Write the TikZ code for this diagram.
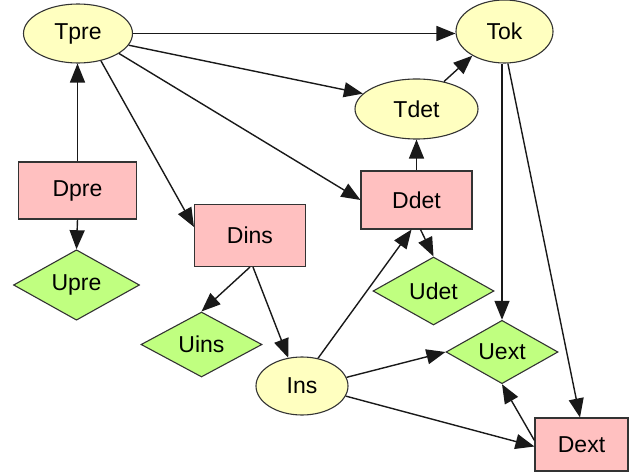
\documentclass[tikz,border=0pt]{standalone}
\usepackage{fontspec}
\setmainfont{Liberation Sans}
\usetikzlibrary{shapes.geometric,arrows.meta}
\definecolor{tfill}{HTML}{FFFFC0}
\definecolor{dfill}{HTML}{FFC0C0}
\definecolor{ufill}{HTML}{C0FF80}
\begin{document}
\begin{tikzpicture}[x=1pt,y=-1pt,
  every node/.style={font=\fontsize{23}{26}\selectfont, draw=black!80, line width=1.1pt, inner sep=0pt},
  tnode/.style={ellipse, fill=tfill},
  dnode/.style={rectangle, fill=dfill},
  unode/.style={diamond, fill=ufill},
  conn/.style={draw=black!90, line width=1.4pt, -{Triangle[length=19pt,width=15pt]}}]
\useasboundingbox (0,0) rectangle (636,473);
% ellipses
\node[tnode, minimum width=109pt, minimum height=59pt] (Tpre) at (78,33.5) {Tpre};
\node[tnode, minimum width=97pt, minimum height=63pt] (Tok) at (504.5,31.5) {Tok};
\node[tnode, minimum width=123pt, minimum height=60pt] (Tdet) at (416.5,109) {Tdet};
\node[tnode, minimum width=92pt, minimum height=58pt] (Ins) at (302,386) {Ins};
% rectangles
\node[dnode, minimum width=118pt, minimum height=57pt] (Dpre) at (77.5,190.5) {Dpre};
\node[dnode, minimum width=111pt, minimum height=62pt] (Dins) at (250,235.5) {Dins};
\node[dnode, minimum width=111pt, minimum height=58pt] (Ddet) at (416.5,200) {Ddet};
\node[dnode, minimum width=93pt, minimum height=53pt] (Dext) at (581.5,444.5) {Dext};
% diamonds
\node[unode, minimum width=126pt, minimum height=56pt] (Upre) at (76.5,285) {Upre};
\node[unode, minimum width=121pt, minimum height=65pt] (Uins) at (201.5,344.5) {Uins};
\node[unode, minimum width=121pt, minimum height=68pt] (Udet) at (433.5,291) {Udet};
\node[unode, minimum width=112pt, minimum height=56pt] (Uext) at (502,352) {Uext};
% connectors
\draw[conn] (Tpre.east) -- (Tpre.east -| Tok.west);
\draw[conn] (Tpre.-13) -- (Tdet.164);
\draw[conn] (Tpre.-26) -- (Ddet.west);
\draw[conn] (Tpre.-50) -- ([yshift=-23pt]Dins.north west);
\draw[conn] (Dpre.north) -- (Dpre.north |- Tpre.south);
\draw[conn] (Dpre.south) -- (Upre.north);
\draw[conn] (Dins.south) -- (Uins.north);
\draw[conn] ([xshift=3pt]Dins.south) -- (Ins.116);
\draw[conn] (Tdet.45) -- (Tok.217);
\draw[conn] (Ddet.north) -- (Tdet.south);
\draw[conn] ([xshift=4pt]Ddet.south) -- (Udet.north);
\draw[conn] (Ins.60) -- ([xshift=-5pt]Ddet.south);
\draw[conn] (Ins.11) -- (Uext.west);
\draw[conn] (Ins.-13) -- ([yshift=-2pt]Dext.west);
\draw[conn] (Tok.south -| Uext.north) -- (Uext.north);
\draw[conn] (Tok.-84) -- ([xshift=-1.5pt]Dext.north);
\draw[conn] ([yshift=4pt]Dext.west) -- (Uext.south);
\end{tikzpicture}
\end{document}
